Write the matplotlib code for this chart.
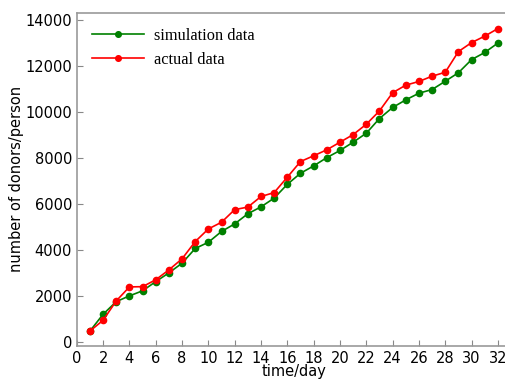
import matplotlib
matplotlib.use("Agg")
import matplotlib.pyplot as plt

days = list(range(1, 33))
simulation = [470, 1200, 1750, 2000, 2220, 2620, 3000, 3420, 4060, 4330,
              4800, 5130, 5570, 5870, 6250, 6850, 7330, 7650, 8010, 8320,
              8680, 9070, 9710, 10190, 10520, 10810, 10970, 11330, 11700, 12270,
              12580, 12990]
actual = [470, 940, 1780, 2390, 2400, 2700, 3130, 3610, 4360, 4910,
          5200, 5750, 5860, 6320, 6490, 7160, 7840, 8090, 8350, 8680,
          9010, 9460, 10040, 10830, 11160, 11320, 11550, 11720, 12620, 13010,
          13290, 13620]
xticks = list(range(0, 33, 2))
yticks = list(range(0, 14001, 2000))

fig = plt.figure(figsize=(5.05, 3.8), dpi=100)
ax = fig.add_axes([0.152, 0.09, 0.86, 0.876])

ax.plot(days, simulation, "-o", color="green", lw=1.2, ms=4.5, label="simulation data")
ax.plot(days, actual, "-o", color="red", lw=1.2, ms=4.5, label="actual data")

ax.set_xlim(0, 33)
ax.set_ylim(-170, 14300)
ax.set_xticks(xticks)
ax.set_yticks(yticks)
ax.tick_params(direction="in", labelsize=10.5, length=4, color="#888888")
for s in ax.spines.values():
    s.set_color("#999999")
    s.set_linewidth(1.2)

ax.set_xlabel("time/day", fontsize=10.5, labelpad=-1)
ax.set_ylabel("number of donors/person", fontsize=10.5, labelpad=1)

ax.legend(loc="upper left", frameon=False, prop={"family": "Liberation Serif", "size": 11.8},
          handlelength=3.2, handletextpad=0.6, borderaxespad=0.5, labelspacing=0.5,
          markerscale=0.9)

fig.savefig("out.png", dpi=100)
